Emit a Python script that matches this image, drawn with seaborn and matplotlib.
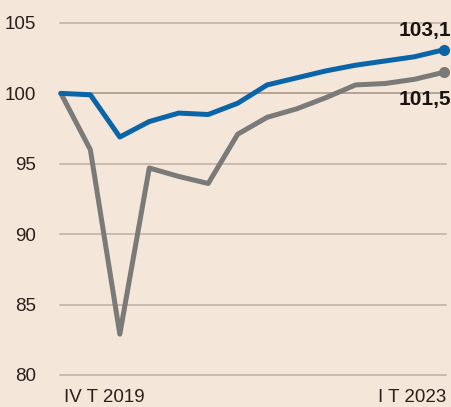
import numpy as np
import pandas as pd
import seaborn as sns
import matplotlib
matplotlib.use('Agg')
import matplotlib.pyplot as plt

# Dati trimestrali, indice IV T 2019 = 100
trimestri = ['IV T 2019', 'I T 2020', 'II T 2020', 'III T 2020', 'IV T 2020',
             'I T 2021', 'II T 2021', 'III T 2021', 'IV T 2021',
             'I T 2022', 'II T 2022', 'III T 2022', 'IV T 2022', 'I T 2023']
serie_blu = [100.0, 99.9, 96.9, 98.0, 98.6, 98.5, 99.3, 100.6, 101.1,
             101.6, 102.0, 102.3, 102.6, 103.1]
serie_grigia = [100.0, 96.0, 82.9, 94.7, 94.1, 93.6, 97.1, 98.3, 98.9,
                99.7, 100.6, 100.7, 101.0, 101.5]
y_ticks = [80, 85, 90, 95, 100, 105]

BG = '#f5e6da'
BLU = '#0a64a8'
GRIGIO = '#7a7a78'
TESTO = '#2a1f1a'

sns.set_style('white')
plt.rcParams['font.family'] = ['Liberation Sans', 'DejaVu Sans']

df = pd.DataFrame({'t': np.arange(len(trimestri)), 'blu': serie_blu, 'grigia': serie_grigia})

fig = plt.figure(figsize=(4.52, 4.07), dpi=100, facecolor=BG)
ax = fig.add_axes([60 / 452, (407 - 382) / 407, 386 / 452, 373.1 / 407])
ax.set_facecolor(BG)

# griglia orizzontale
for v in y_ticks:
    ax.axhline(v, color='#a89888' if v == 100 else '#c4b3a4', lw=1.2, zorder=0)

sns.lineplot(data=df, x='t', y='grigia', color=GRIGIO, lw=3.6, ax=ax, zorder=3)
sns.lineplot(data=df, x='t', y='blu', color=BLU, lw=3.6, ax=ax, zorder=4)
for ln in ax.get_lines():
    ln.set_clip_on(False)
    ln.set_solid_joinstyle('round')
ax.plot(df['t'].iloc[-1], serie_grigia[-1], 'o', color=GRIGIO, ms=7, zorder=5, clip_on=False)
ax.plot(df['t'].iloc[-1], serie_blu[-1], 'o', color=BLU, ms=7, zorder=5, clip_on=False)

ax.set_xlim(-0.03, 13.07)
ax.set_ylim(79.5, 106)
ax.set_xlabel('')
ax.set_ylabel('')
for s in ax.spines.values():
    s.set_visible(False)

ax.set_yticks(y_ticks)
ax.set_yticklabels([str(v) for v in y_ticks], fontsize=13.5, color=TESTO)
ax.tick_params(axis='y', length=0, pad=17)
ax.set_xticks([])

ax.text(0.1, 78.4, trimestri[0], ha='left', va='center', fontsize=13.5, color=TESTO)
ax.text(13.07, 78.4, trimestri[-1], ha='right', va='center', fontsize=13.5, color=TESTO)

ax.text(13.25, 104.5, '103,1', ha='right', va='center', fontsize=15,
        fontweight='bold', color='#1a1410', clip_on=False)
ax.text(13.25, 99.6, '101,5', ha='right', va='center', fontsize=15,
        fontweight='bold', color='#1a1410', clip_on=False)

fig.savefig('out.png', dpi=100, facecolor=BG)
